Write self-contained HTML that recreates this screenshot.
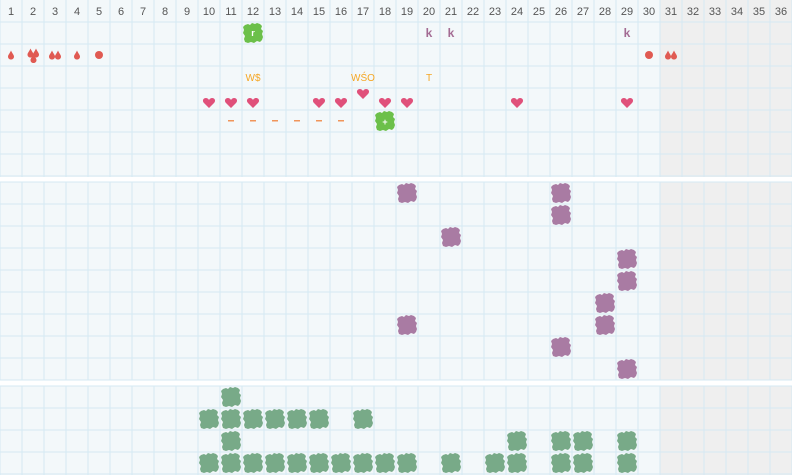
<!DOCTYPE html>
<html><head><meta charset="utf-8"><style>
html,body{margin:0;padding:0;background:#fff;}
svg{display:block;}
text{font-family:"Liberation Sans",sans-serif;}
</style></head><body>
<svg id="s" width="792" height="475" viewBox="0 0 792 475" xmlns="http://www.w3.org/2000/svg">
<defs>
<path id="blob" d="M-8,-8 L-5,-9 L-3,-8 L-1,-10 L2,-9 L4,-10 L7,-9 L9,-7 L8,-4 L10,-2 L9,1 L10,4 L9,7 L7,9 L4,8 L1,10 L-2,9 L-5,10 L-8,9 L-9,6 L-8,3 L-10,0 L-9,-3 L-10,-6Z"/>
<path id="heart" d="M0,4 L-5,-1 C-7,-3 -6,-6 -3,-6 C-1,-6 0,-4 0,-4 C0,-4 1,-6 3,-6 C6,-6 7,-3 5,-1Z"/>
<path id="drop" d="M0,-4.5 C1,-2 3,0 3,1.5 C3,3.5 1.5,4.5 0,4.5 C-1.5,4.5 -3,3.5 -3,1.5 C-3,0 -1,-2 0,-4.5Z"/>
</defs>
<rect x="0" y="0" width="792" height="475" fill="#f3f8fa"/>
<rect x="660" y="0" width="132" height="475" fill="#efefef"/>
<g id="grid"></g>
<rect x="0" y="177" width="792" height="4.5" fill="#ffffff"/>
<rect x="0" y="380.5" width="792" height="5" fill="#ffffff"/>
<g id="hdr" font-size="11" fill="#555" text-anchor="middle">
<text x="11" y="15">1</text><text x="33" y="15">2</text><text x="55" y="15">3</text><text x="77" y="15">4</text><text x="99" y="15">5</text><text x="121" y="15">6</text><text x="143" y="15">7</text><text x="165" y="15">8</text><text x="187" y="15">9</text><text x="209" y="15">10</text><text x="231" y="15">11</text><text x="253" y="15">12</text><text x="275" y="15">13</text><text x="297" y="15">14</text><text x="319" y="15">15</text><text x="341" y="15">16</text><text x="363" y="15">17</text><text x="385" y="15">18</text><text x="407" y="15">19</text><text x="429" y="15">20</text><text x="451" y="15">21</text><text x="473" y="15">22</text><text x="495" y="15">23</text><text x="517" y="15">24</text><text x="539" y="15">25</text><text x="561" y="15">26</text><text x="583" y="15">27</text><text x="605" y="15">28</text><text x="627" y="15">29</text><text x="649" y="15">30</text><text x="671" y="15">31</text><text x="693" y="15">32</text><text x="715" y="15">33</text><text x="737" y="15">34</text><text x="759" y="15">35</text><text x="781" y="15">36</text>
</g>
<g id="marks"></g>
<g font-size="12" font-weight="bold" fill="#a36b93" text-anchor="middle">
<text x="429" y="37">k</text><text x="451" y="37">k</text><text x="627" y="37">k</text>
</g>
<g font-size="10" fill="#f5a623" text-anchor="middle">
<text x="253" y="81">W$</text><text x="363" y="81">WŚO</text><text x="429" y="81">T</text>
</g>
<g font-size="9" font-weight="bold" fill="#fff" text-anchor="middle">
<text x="253" y="36">r</text><text x="385" y="125">+</text>
</g>
</svg>
<script>
var NS="http://www.w3.org/2000/svg",s=document.getElementById('grid'),m=document.getElementById('marks');
function el(p,t,a){var e=document.createElementNS(NS,t);for(var k in a)e.setAttribute(k,a[k]);p.appendChild(e);return e;}
var c="#d5e9f3";
for(var i=0;i<=36;i++){el(s,'rect',{x:i*22-0.5,y:0,width:1,height:475,fill:c});}
var ys=[22,44,66,88,110,132,154,176,182,204,226,248,270,292,314,336,358,380,386,408,430,452,474];
ys.forEach(function(y){el(s,'rect',{x:0,y:y-0.5,width:792,height:1,fill:c});});
function cx(col){return (col-1)*22+11;}
function blob(col,y,f){el(m,'use',{href:'#blob',x:cx(col),y:y,fill:f});}
function use(id,x,y,f){el(m,'use',{href:'#'+id,x:x,y:y,fill:f});}
blob(12,33,'#6cc04a');blob(18,121,'#6cc04a');
var P='#a97ba3';
[[19,193],[26,193],[26,215],[21,237],[29,259],[29,281],[28,303],[28,325],[19,325],[26,347],[29,369]].forEach(function(a){blob(a[0],a[1],P);});
var G='#78aa88';
blob(11,397,G);
[10,11,12,13,14,15,17].forEach(function(c){blob(c,419,G);});
[11,24,26,27,29].forEach(function(c){blob(c,441,G);});
[10,11,12,13,14,15,16,17,18,19,21,23,24,26,27,29].forEach(function(c){blob(c,463,G);});
var R='#e05a52';
use('drop',11,55,R);
use('drop',30.5,53,R);use('drop',36,53,R);use('drop',33.5,58.5,R);
use('drop',52,55,R);use('drop',58,55,R);
use('drop',77,55,R);
el(m,'circle',{cx:99,cy:55,r:4,fill:R});
el(m,'circle',{cx:649,cy:55,r:4,fill:R});
use('drop',668,55,R);use('drop',674,55,R);
var H='#e0507a';
[10,11,12,15,16,18,19,24,29].forEach(function(c){use('heart',cx(c),104,H);});
use('heart',cx(17),95,H);
[11,12,13,14,15,16].forEach(function(c){el(m,'rect',{x:cx(c)-3,y:120,width:6,height:1.5,fill:'#f0955a'});});
</script>
</body></html>
